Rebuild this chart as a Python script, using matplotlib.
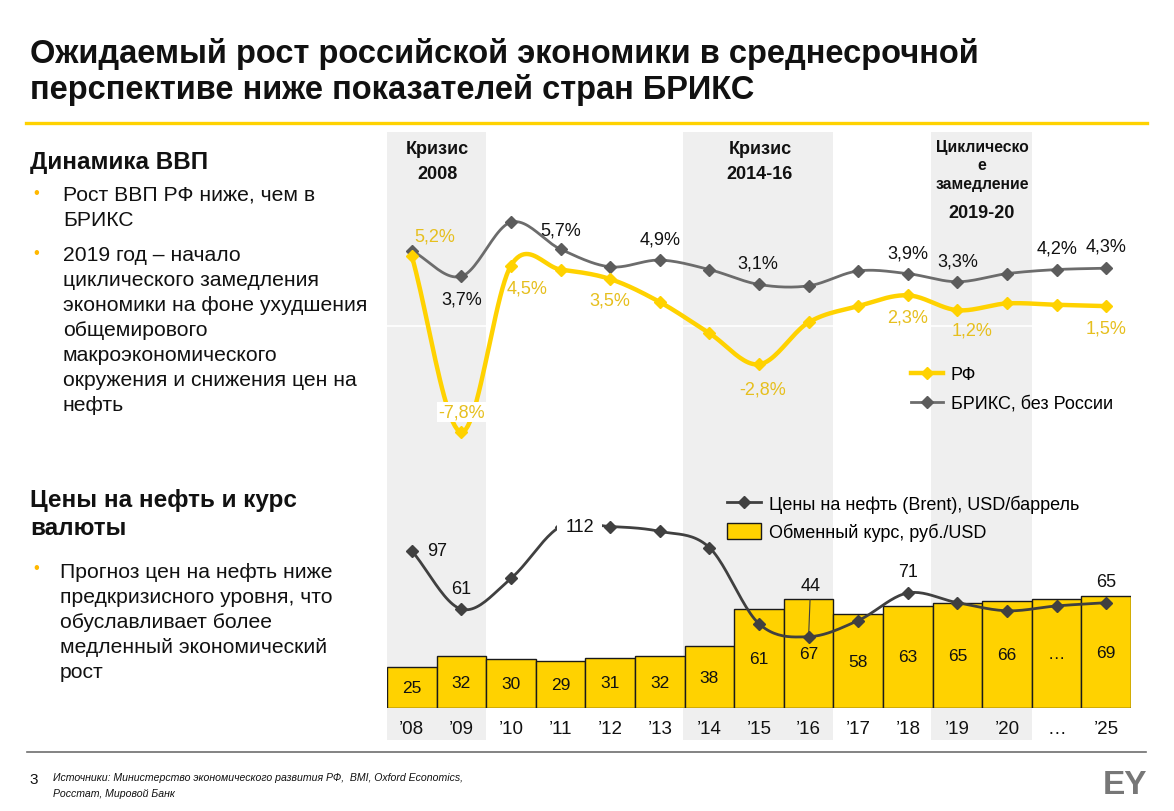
import numpy as np
import matplotlib
matplotlib.use('Agg')
import matplotlib.pyplot as plt
from matplotlib.lines import Line2D
from matplotlib.patches import Patch

plt.rcParams['font.family'] = ['Liberation Sans', 'DejaVu Sans']

# --- data ---
years = ["’08", "’09", "’10", "’11", "’12", "’13", "’14", "’15", "’16",
         "’17", "’18", "’19", "’20", "…", "’25"]
gdp_rf = [5.2, -7.8, 4.5, 4.2, 3.5, 1.8, -0.5, -2.8, 0.3, 1.5, 2.3, 1.2, 1.7, 1.6, 1.5]
gdp_brics = [5.6, 3.7, 7.7, 5.7, 4.4, 4.9, 4.2, 3.1, 3.0, 4.1, 3.9, 3.3, 3.9, 4.2, 4.3]
oil = [97, 61, 80, 112, 112, 109, 99, 52, 44, 54, 71, 65, 60, 63, 65]
rate = [25, 32, 30, 29, 31, 32, 38, 61, 67, 58, 63, 65, 66, 67, 69]
rate_labels = ['25', '32', '30', '29', '31', '32', '38', '61', '67',
               '58', '63', '65', '66', '…', '69']

# which points get labels, and where (pixel offsets)
rf_lbl = {0: (23, 20), 1: (0, 20), 2: (16, -22), 4: (0, -21), 7: (4, -25),
          10: (0, -22), 11: (15, -20), 14: (0, -22)}
brics_lbl = {1: (0, -23), 3: (0, 19), 5: (0, 21), 7: (-1, 21), 10: (0, 21),
             11: (0, 21), 13: (0, 22), 14: (0, 22)}
oil_lbl = {0: (25, 0), 1: (0, 21), 3: (19, 0), 8: (2, 51), 10: (0, 21), 14: (0, 21)}
shades = [(-0.5, 1.5), (5.5, 8.5), (10.5, 12.5)]

YEL = '#FFD200'
YEL_TXT = '#E6BF1E'
GRAY = '#6c6c6c'
DARK = '#404040'
TXT = '#111111'
FS = 13  # chart text size

W, H = 1174, 812
fig = plt.figure(figsize=(W / 100, H / 100), dpi=100)


def box(x0, y0, x1, y1):
    return [x0 / W, 1 - y1 / H, (x1 - x0) / W, (y1 - y0) / H]


def put(x, y, s, **kw):
    kw.setdefault('color', TXT)
    kw.setdefault('va', 'baseline')
    fig.text(x / W, 1 - y / H, s, **kw)


def smooth(y, n=24):
    # catmull-rom style smoothing like excel "smoothed line"
    y = np.asarray(y, float)
    x = np.arange(len(y), dtype=float)
    yp = np.r_[y[0], y, y[-1]]
    xs, ys = [], []
    for i in range(len(y) - 1):
        p0, p1, p2, p3 = yp[i], yp[i + 1], yp[i + 2], yp[i + 3]
        m1 = (p2 - p0) / 2
        m2 = (p3 - p1) / 2
        if i == 0:
            m1 = p2 - p1
        if i == len(y) - 2:
            m2 = p2 - p1
        t = np.linspace(0, 1, n)
        h00 = 2 * t**3 - 3 * t**2 + 1
        h10 = t**3 - 2 * t**2 + t
        h01 = -2 * t**3 + 3 * t**2
        h11 = t**3 - t**2
        xs.append(x[i] + t)
        ys.append(h00 * p1 + h10 * m1 + h01 * p2 + h11 * m2)
    return np.concatenate(xs), np.concatenate(ys)


xi = np.arange(len(years))

# background shading for crisis periods
bg = fig.add_axes(box(387, 133, 1131, 741))
bg.set_xlim(-0.5, 14.5)
bg.set_ylim(0, 1)
for a, b in shades:
    bg.axvspan(a - 0.04, b, color='#EFEFEF', lw=0)
bg.axis('off')

# --- GDP chart ---
ax = fig.add_axes(box(387, 130, 1131, 450))
ax.patch.set_alpha(0)
ax.set_xlim(-0.5, 14.5)
ax.set_ylim(-9.05, 14.58)
ax.axhline(0, color='white', lw=1.2, zorder=1)
sx, sy = smooth(gdp_brics)
ax.plot(sx, sy, color=GRAY, lw=2, zorder=3)
ax.plot(xi, gdp_brics, ls='none', marker='D', ms=6, color='#5c5c5c', zorder=4)
sx, sy = smooth(gdp_rf)
ax.plot(sx, sy, color=YEL, lw=3.2, zorder=5)
ax.plot(xi, gdp_rf, ls='none', marker='D', ms=6, color=YEL, zorder=6)
for i, (dx, dy) in rf_lbl.items():
    bb = dict(fc='white', ec='none', pad=1) if i == 1 else None
    ax.annotate(f"{gdp_rf[i]:.1f}%".replace('.', ','), (i, gdp_rf[i]),
                xytext=(dx, dy), textcoords='offset pixels', ha='center',
                va='center', fontsize=FS, color=YEL_TXT, bbox=bb, zorder=7)
for i, (dx, dy) in brics_lbl.items():
    ax.annotate(f"{gdp_brics[i]:.1f}%".replace('.', ','), (i, gdp_brics[i]),
                xytext=(dx, dy), textcoords='offset pixels', ha='center',
                va='center', fontsize=FS, color=TXT, zorder=7)
ax.axis('off')
h_rf = Line2D([], [], color=YEL, lw=3.2, marker='D', ms=6)
h_br = Line2D([], [], color=GRAY, lw=2, marker='D', ms=6, mfc='#5c5c5c', mec='#5c5c5c')
fig.legend([h_rf, h_br], ['РФ', 'БРИКС, без России'], loc='center left',
           bbox_to_anchor=(911 / W, 1 - 390 / H), frameon=False, fontsize=FS,
           handlelength=1.75, handletextpad=0.45, labelspacing=0.65,
           borderpad=0, borderaxespad=0)

# --- oil & exchange rate chart ---
ax2 = fig.add_axes(box(387, 470, 1131, 709))
ax2.patch.set_alpha(0)
ax2.set_xlim(-0.5, 14.5)
ax2.set_ylim(0, 147.5)
bars = ax2.bar(xi, rate, width=1.0, color=YEL, edgecolor='#1a1a1a', lw=1.0, zorder=2)
ax2.bar_label(bars, labels=rate_labels, label_type='center', fontsize=12.5, color=TXT)
sx, sy = smooth(oil)
ax2.plot(sx, sy, color=DARK, lw=2, zorder=3)
ax2.plot(xi, oil, ls='none', marker='D', ms=6, color=DARK, zorder=4)
for i, (dx, dy) in oil_lbl.items():
    bb = dict(fc='white', ec='none', pad=6) if i == 3 else None
    ap = dict(arrowstyle='-', color=DARK, lw=0.8, shrinkA=2, shrinkB=3) if i == 8 else None
    ax2.annotate(str(oil[i]), (i, oil[i]), xytext=(dx, dy), textcoords='offset pixels',
                 ha='center', va='center', fontsize=FS, color=TXT, bbox=bb,
                 arrowprops=ap, zorder=6)
ax2.set_xticks(xi, years)
ax2.tick_params(length=0, pad=9, labelsize=13.5, labelcolor=TXT)
for s in ax2.spines.values():
    s.set_visible(False)
ax2.set_yticks([])
h_oil = Line2D([], [], color=DARK, lw=2, marker='D', ms=6)
h_rate = Patch(fc=YEL, ec='#1a1a1a', lw=1)
fig.legend([h_oil, h_rate], ['Цены на нефть (Brent), USD/баррель', 'Обменный курс, руб./USD'],
           loc='center left', bbox_to_anchor=(727 / W, 1 - 519 / H), frameon=False,
           fontsize=FS, handlelength=1.9, handleheight=1.0, handletextpad=0.4,
           labelspacing=0.55, borderpad=0, borderaxespad=0)

# crisis headers
put(437, 154, 'Кризис', ha='center', fontsize=13, weight='bold')
put(437, 179, '2008', ha='center', fontsize=13, weight='bold')
put(760, 154, 'Кризис', ha='center', fontsize=13, weight='bold')
put(760, 179, '2014-16', ha='center', fontsize=13, weight='bold')
put(982, 152, 'Циклическо', ha='center', fontsize=11.3, weight='bold')
put(982, 170, 'е', ha='center', fontsize=11.3, weight='bold')
put(982, 189, 'замедление', ha='center', fontsize=11.3, weight='bold')
put(982, 218, '2019-20', ha='center', fontsize=13, weight='bold')

# --- slide text ---
put(30, 63, 'Ожидаемый рост российской экономики в среднесрочной',
    fontsize=23.5, weight='bold')
put(30, 99, 'перспективе ниже показателей стран БРИКС', fontsize=23.5, weight='bold')
fig.add_artist(Line2D([26 / W, 1147 / W], [1 - 124 / H] * 2, color=YEL, lw=2.4))

put(30, 169, 'Динамика ВВП', fontsize=17.5, weight='bold')
for j, s in enumerate(['Рост ВВП РФ ниже, чем в', 'БРИКС']):
    put(63, 201 + 25 * j, s, fontsize=15.2)
lines2 = ['2019 год – начало', 'циклического замедления', 'экономики на фоне ухудшения',
          'общемирового', 'макроэкономического', 'окружения и снижения цен на', 'нефть']
for j, s in enumerate(lines2):
    put(63, 261 + 25 * j, s, fontsize=15.2)
put(30, 507, 'Цены на нефть и курс', fontsize=17.5, weight='bold')
put(30, 535, 'валюты', fontsize=17.5, weight='bold')
lines3 = ['Прогноз цен на нефть ниже', 'предкризисного уровня, что', 'обуславливает более',
          'медленный экономический', 'рост']
for j, s in enumerate(lines3):
    put(60, 578 + 25 * j, s, fontsize=15.2)
for yb in [198, 258, 573]:
    put(33, yb, '•', fontsize=12, color='#FFB800')

# footer
fig.add_artist(Line2D([27 / W, 1146 / W], [1 - 753 / H] * 2, color='#6e6e6e', lw=1.2))
put(29, 784, '3', fontsize=11)
put(53, 781, 'Источники: Министерство экономического развития РФ,  BMI, Oxford Economics,',
    fontsize=7.6, style='italic')
put(53, 797, 'Росстат, Мировой Банк', fontsize=7.6, style='italic')
put(1125, 794, 'EY', ha='center', fontsize=24, weight='bold', color='#777777')

fig.savefig('out.png', dpi=100)
